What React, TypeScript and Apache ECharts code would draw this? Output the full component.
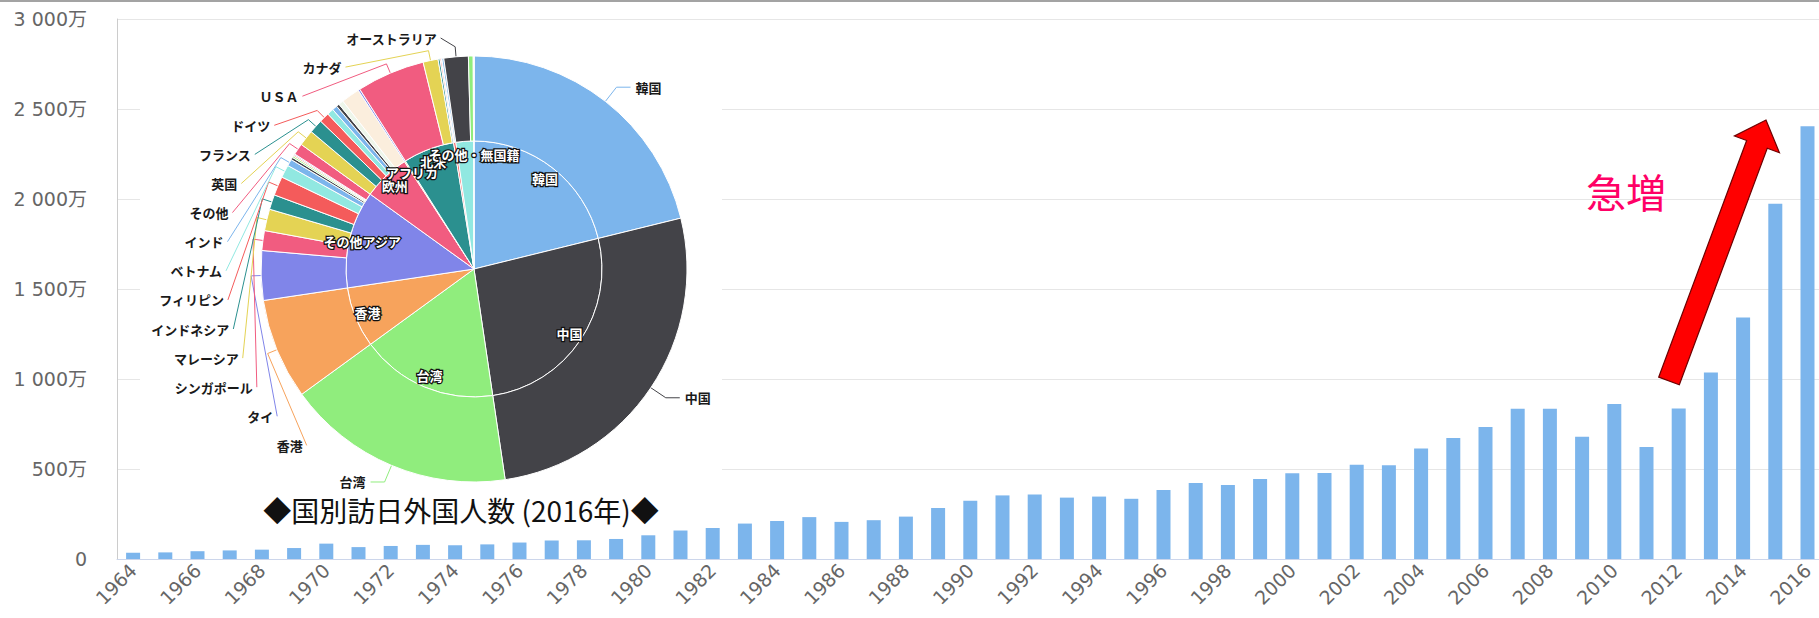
import React, { useEffect, useRef } from 'react';
import * as echarts from 'echarts';

// ---- Bar chart data: visitors to Japan (万人) ----
const years = [
  '1964','1965','1966','1967','1968','1969','1970','1971','1972','1973','1974','1975','1976','1977',
  '1978','1979','1980','1981','1982','1983','1984','1985','1986','1987','1988','1989','1990','1991',
  '1992','1993','1994','1995','1996','1997','1998','1999','2000','2001','2002','2003','2004','2005',
  '2006','2007','2008','2009','2010','2011','2012','2013','2014','2015','2016',
];
const visitors = [
  35.3, 36.7, 43.3, 47.7, 51.9, 60.9, 85.4, 66.1, 72.4, 78.5, 76.4, 81.2, 91.5, 102.8,
  103.9, 111.3, 131.7, 158.3, 179.3, 196.8, 211.0, 232.7, 206.2, 215.6, 235.5, 283.5, 323.6, 353.3,
  358.2, 341.0, 346.8, 334.5, 383.7, 421.8, 410.6, 443.8, 475.7, 477.2, 523.9, 521.2, 613.8, 672.8,
  733.4, 834.7, 835.1, 679.0, 861.1, 621.9, 835.8, 1036.4, 1341.3, 1973.7, 2403.9,
];
const yTicks = [0, 500, 1000, 1500, 2000, 2500, 3000];

// ---- Pie (2016) : inner = regions, outer = countries (万人) ----
const innerNames = ['韓国','中国','台湾','香港','その他アジア','欧州','アフリカ','北米','南米','オセアニア','その他・無国籍'];
const innerValues = [509.0, 637.4, 416.8, 183.9, 296.0, 142.2, 3.4, 155.2, 6.8, 54.0, 0.6];
const innerShowLabel = [true, true, true, true, true, true, true, true, false, false, true];

const outerNames = [
  '韓国','中国','台湾','香港','タイ','シンガポール','マレーシア','インドネシア','フィリピン','ベトナム',
  'インド','マカオ','イスラエル','トルコ','モンゴル','その他','英国','フランス','ドイツ','イタリア',
  'スペイン','ロシア','北欧地域','その他欧州','アフリカ','ＵＳＡ','カナダ','メキシコ','ブラジル','アルゼンチン',
  'その他南米','オーストラリア','ニュージーランド','その他オセアニア','その他','無国籍',
];
const outerValues = [
  509.0, 637.4, 416.8, 183.9, 90.2, 36.2, 39.4, 27.1, 34.8, 23.4,
  12.3, 4.5, 3.0, 2.4, 1.9, 20.8, 29.2, 25.3, 18.3, 11.9,
  9.2, 5.5, 9.0, 33.8, 3.4, 124.3, 27.3, 3.6, 2.3, 1.0,
  3.5, 44.5, 8.7, 0.8, 0.4, 0.2,
];
const outerShowLabel = [
  true, true, true, true, true, true, true, true, true, true,
  true, false, false, false, false, true, true, true, true, false,
  false, false, false, false, false, true, true, false, false, false,
  false, true, false, false, false, false,
];

const palette = ['#7cb5ec','#434348','#90ed7d','#f7a35c','#8085e9','#f15c80','#e4d354','#2b908f','#f45b5b','#91e8e1'];
// slices that look washed out in the picture
const paleOverride: Record<number, string> = { 22: '#eef6ea', 23: '#fbeedd' };

const titleText = '◆国別訪日外国人数 (2016年)◆';
const noteText = '急増';

// layout constants
const CX = 474, CY = 269, R_IN = 128, R_OUT = 213;
const STACK_TOP = 38, STACK_STEP = 29.1;
const INNER_LABEL_R = 115;

function labelRadius(dy: number) {
  return 252 - 18 * Math.pow(dy / 231, 4);
}

function fmtMan(v: number) {
  if (v === 0) return '0';
  const s = String(v);
  const t = s.length > 3 ? s.slice(0, s.length - 3) + ' ' + s.slice(s.length - 3) : s;
  return t + '万';
}

function arrowPoints(tail: number[], tip: number[], shaftHalf: number, headHalf: number, headLen: number) {
  const dx = tip[0] - tail[0], dy = tip[1] - tail[1];
  const L = Math.hypot(dx, dy);
  const ux = dx / L, uy = dy / L;
  const nx = -uy, ny = ux;
  const bx = tip[0] - ux * headLen, by = tip[1] - uy * headLen;
  return [
    [tail[0] + nx * shaftHalf, tail[1] + ny * shaftHalf],
    [bx + nx * shaftHalf, by + ny * shaftHalf],
    [bx + nx * headHalf, by + ny * headHalf],
    [tip[0], tip[1]],
    [bx - nx * headHalf, by - ny * headHalf],
    [bx - nx * shaftHalf, by - ny * shaftHalf],
    [tail[0] - nx * shaftHalf, tail[1] - ny * shaftHalf],
  ];
}

export default function App() {
  const ref = useRef<HTMLDivElement>(null);
  useEffect(() => {
    if (!ref.current) return;
    const chart = echarts.init(ref.current, undefined, { renderer: 'svg' });

    const leftStack = outerNames
      .map((_, i) => i)
      .filter((i) => outerShowLabel[i] && i >= 3)
      .sort((a, b) => b - a);

    const innerTotal = innerValues.reduce((a, b) => a + b, 0);
    const innerMid: number[] = [];
    let acc = 0;
    innerValues.forEach((v) => {
      innerMid.push(((acc + v / 2) / innerTotal) * Math.PI * 2);
      acc += v;
    });

    const outerData = outerNames.map((n, i) => ({
      name: n,
      value: outerValues[i],
      itemStyle: { color: paleOverride[i] || palette[i % palette.length] },
      label: { show: outerShowLabel[i] },
      labelLine: { show: outerShowLabel[i] },
    }));
    const innerData = innerNames.map((n, i) => ({
      name: n,
      value: innerValues[i],
      itemStyle: { color: palette[i % palette.length] },
    }));
    const innerLabelData = innerNames.map((n, i) => ({
      name: n,
      value: innerValues[i],
      label: { show: innerShowLabel[i] },
    }));

    const option: any = {
      animation: false,
      textStyle: { fontFamily: "'Noto Sans CJK JP', sans-serif" },
      grid: { left: 117, top: 19, right: 16.4, bottom: 59, containLabel: false },
      xAxis: {
        type: 'category',
        data: years,
        axisLine: { lineStyle: { color: '#ccd6eb' } },
        axisTick: { interval: 1, alignWithLabel: true, length: 10, lineStyle: { color: '#ccd6eb' } },
        axisLabel: {
          interval: 1, rotate: 45, color: '#666', fontSize: 19, margin: 8,
          fontFamily: "'DejaVu Sans', sans-serif",
        },
      },
      yAxis: {
        type: 'value',
        min: yTicks[0],
        max: yTicks[yTicks.length - 1],
        interval: yTicks[1] - yTicks[0],
        axisLine: { show: true, lineStyle: { color: '#cccccc' } },
        axisTick: { show: false },
        splitLine: { lineStyle: { color: '#e6e6e6' } },
        axisLabel: {
          formatter: fmtMan, color: '#666', fontSize: 19, margin: 30,
          fontFamily: "'DejaVu Sans', 'Noto Sans CJK JP', sans-serif",
        },
      },
      series: [
        {
          type: 'bar',
          data: visitors,
          barWidth: 14,
          itemStyle: { color: '#7cb5ec' },
          z: 2,
          silent: true,
        },
        {
          type: 'pie',
          center: [CX, CY],
          radius: [0, R_IN],
          startAngle: 90,
          clockwise: true,
          z: 10,
          silent: true,
          data: innerData,
          label: { show: false },
          labelLine: { show: false },
          itemStyle: { borderColor: '#ffffff', borderWidth: 1 },
        },
        {
          type: 'pie',
          center: [CX, CY],
          radius: [R_IN, R_OUT],
          startAngle: 90,
          clockwise: true,
          z: 10,
          silent: true,
          data: outerData,
          itemStyle: { borderColor: '#ffffff', borderWidth: 1 },
          label: {
            position: 'outside',
            color: '#1a1a1a',
            fontSize: 13,
            fontWeight: 'bold',
            fontFamily: "'Noto Sans CJK JP', sans-serif",
          },
          labelLine: { length: 18, length2: 14, lineStyle: { width: 1 } },
          labelLayout: (p: any) => {
            const k = leftStack.indexOf(p.dataIndex);
            if (k < 0) return {};
            const y = STACK_TOP + k * STACK_STEP;
            const dy = y - CY;
            const R = labelRadius(dy);
            const xr = CX - Math.sqrt(Math.max(R * R - dy * dy, 0));
            const pts = p.labelLinePoints;
            const p0 = pts && pts[0] ? pts[0] : [xr, y];
            const ang = Math.atan2(p0[1] - CY, p0[0] - CX);
            const p1 = [CX + (R_OUT + 10) * Math.cos(ang), CY + (R_OUT + 10) * Math.sin(ang)];
            return {
              x: xr, y, align: 'right', verticalAlign: 'middle',
              labelLinePoints: [p0, p1, [xr + 4, y]],
            };
          },
        },
        {
          type: 'pie',
          center: [CX, CY],
          radius: [0, INNER_LABEL_R],
          startAngle: 90,
          clockwise: true,
          avoidLabelOverlap: false,
          z: 11,
          silent: true,
          data: innerLabelData,
          itemStyle: { color: 'rgba(0,0,0,0)', borderWidth: 0 },
          emphasis: { disabled: true },
          labelLine: { show: false, length: 0, length2: 0 },
          label: {
            position: 'outside',
            color: '#ffffff',
            fontSize: 13,
            fontWeight: 'bold',
            textBorderColor: '#111',
            textBorderWidth: 2.5,
            fontFamily: "'Noto Sans CJK JP', sans-serif",
          },
          labelLayout: (p: any) => {
            const a = innerMid[p.dataIndex];
            return {
              x: CX + INNER_LABEL_R * Math.sin(a),
              y: CY - INNER_LABEL_R * Math.cos(a),
              align: 'center',
              verticalAlign: 'middle',
            };
          },
        },
      ],
      graphic: [
        {
          type: 'rect', z: 5, silent: true,
          shape: { x: 140, y: 20, width: 582, height: 508 },
          style: { fill: '#ffffff' },
        },
        {
          type: 'line', z: 20, silent: true,
          shape: { x1: 0, y1: 1, x2: 1840, y2: 1 },
          style: { stroke: '#a3a3a3', lineWidth: 2 },
        },
        {
          type: 'text', z: 20, x: 461, y: 510, silent: true,
          style: {
            text: titleText, fontSize: 28, fill: '#111', align: 'center', verticalAlign: 'middle',
            fontFamily: "'Noto Sans CJK JP', sans-serif",
          },
        },
        {
          type: 'text', z: 20, x: 1626, y: 191, silent: true,
          style: {
            text: noteText, fontSize: 40, fill: '#ff0066', align: 'center', verticalAlign: 'middle',
            fontFamily: "'Noto Sans CJK JP', sans-serif",
          },
        },
        {
          type: 'polygon', z: 20, silent: true,
          shape: { points: arrowPoints([1669, 381], [1766, 120], 11, 24, 26) },
          style: { fill: '#ff0000', stroke: '#6e0000', lineWidth: 1.2 },
        },
      ],
    };

    chart.setOption(option);
    return () => chart.dispose();
  }, []);

  return (
    <div style={{ position: 'fixed', left: 0, top: 0, width: 1819, height: 618, overflow: 'hidden', background: '#fff' }}>
      <div ref={ref} style={{ width: 1840, height: 618 }} />
    </div>
  );
}
